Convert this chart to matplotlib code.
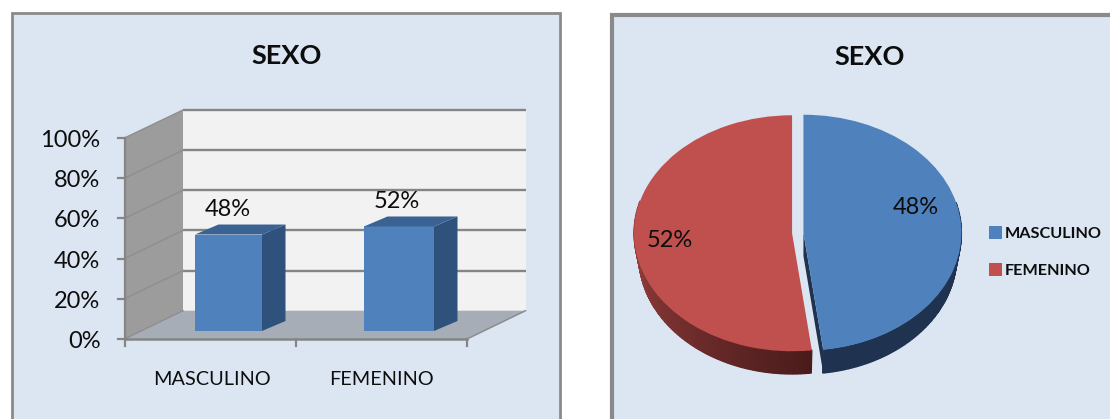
import numpy as np
import matplotlib
matplotlib.use('Agg')
import matplotlib.pyplot as plt
from matplotlib.patches import Rectangle, Polygon

# ================================================================
# Data
# ================================================================
title = 'SEXO'
categorias = ['MASCULINO', 'FEMENINO']
valores = [48, 52]
ticks = [0, 20, 40, 60, 80, 100]

W, H = 1110, 419
azul, rojo = '#4F81BD', '#C0504D'
borde = '#8A8A8A'
panel = '#DCE6F2'
negro = '#0D0D0D'

plt.rcParams['font.family'] = ['Lato', 'DejaVu Sans']

fig = plt.figure(figsize=(W / 100, H / 100), dpi=100, facecolor='white')

# base axes in pixels of the picture
ax = fig.add_axes([0, 0, 1, 1])
ax.set_xlim(0, W)
ax.set_ylim(H, 0)
ax.axis('off')

# panels
ax.add_patch(Rectangle((11.5, 13.5), 548, 420, fc=panel, ec=borde, lw=2))
ax.add_patch(Rectangle((612, 15.5), 520, 420, fc=panel, ec=borde, lw=3))

# ================================================================
# Bar chart (fake 3D)
# ================================================================
x0, x1 = 124.5, 467          # front edge of the floor
dx = 58.5                    # depth of the box
y_front, y_back = 339, 310.7
px_frente = 2.01             # pixels per 1%
px_fondo = 2.007


def yf(v):
    return y_front - px_frente * v


def yb(v):
    return y_back - px_fondo * v


# back wall, side wall, floor
ax.add_patch(Polygon([(x0 + dx, yb(100)), (x0 + dx + 342.5, yb(100)),
                      (x0 + dx + 342.5, yb(0)), (x0 + dx, yb(0))],
                     fc='#F2F2F2', ec='none', zorder=2))
ax.add_patch(Polygon([(x0, yf(100)), (x0 + dx, yb(100)), (x0 + dx, yb(0)), (x0, yf(0))],
                     fc='#9C9C9C', ec='none', zorder=2))
ax.add_patch(Polygon([(x0, yf(0)), (x0 + dx, yb(0)), (x1 + dx, yb(0)), (x1, yf(0))],
                     fc='#A7ADB7', ec='none', zorder=2))

# grid lines and ticks
for v in ticks:
    if v > 0:
        ax.plot([x0 + dx, x1 + dx], [yb(v), yb(v)], color='#858585', lw=1.7, zorder=3,
                solid_capstyle='butt')
    ax.plot([x0, x0 + dx], [yf(v), yb(v)], color='#8E8E8E', lw=1.0, zorder=3)
    ax.plot([x0 - 7, x0], [yf(v), yf(v)], color='#858585', lw=1.6, zorder=3)
    ax.text(100.5, yf(v) + 2.5, f'{v}%', ha='right', va='center', fontsize=17,
            color=negro, zorder=6)
ax.plot([x0, x0], [yf(100), yf(0)], color='#858585', lw=1.6, zorder=3)
ax.plot([x0, x1], [yf(0), yf(0)], color='#858585', lw=1.8, zorder=3)
ax.plot([x1, x1 + dx], [yf(0), yb(0)], color='#8C8C8C', lw=1.1, zorder=3)
for xt in [x0, (x0 + x1) / 2, x1]:
    ax.plot([xt, xt], [yf(0), yf(0) + 7], color='#858585', lw=1.6, zorder=3)

# bars
bar_left = [195, 364]
bar_ancho = [67, 70]
bar_prof_x = 23.5
bar_prof_y = 10
base = 331
for i, v in enumerate(valores):
    xa = bar_left[i]
    xb = xa + bar_ancho[i]
    top = base - px_frente * v
    ax.bar(xa, -px_frente * v, width=bar_ancho[i], bottom=base, align='edge',
           color=azul, zorder=4)
    ax.add_patch(Polygon([(xb, base), (xb + bar_prof_x, base - bar_prof_y),
                          (xb + bar_prof_x, top - bar_prof_y), (xb, top)],
                         fc='#2F527C', ec='none', zorder=4))
    ax.add_patch(Polygon([(xa, top), (xa + bar_prof_x, top - bar_prof_y),
                          (xb + bar_prof_x, top - bar_prof_y), (xb, top)],
                         fc='#3A6292', ec='none', zorder=4))
    ax.text(xa + 33, top - 25, f'{v}%', ha='center', va='center',
            fontsize=17, color=negro, zorder=6)

ax.text(211.5, 379, categorias[0], ha='center', va='center', fontsize=14.3, color=negro)
ax.text(381.5, 379, categorias[1], ha='center', va='center', fontsize=14.3, color=negro)

# titles
ax.text(287, 56, title, ha='center', va='center', fontsize=19.5, fontweight='bold', color=negro)
ax.text(869.5, 57, title, ha='center', va='center', fontsize=19.5, fontweight='bold', color=negro)

# ================================================================
# Pie chart (squashed axes, side drawn below the slices)
# ================================================================
cx, cy = 797.75, 233
rx, ry = 158, 118
left, right = 620, 980
top, bottom = 100, 390
ax2 = fig.add_axes([left / W, 1 - bottom / H, (right - left) / W, (bottom - top) / H])
ax2.patch.set_alpha(0)

sep = 0.036
wedges, _ = ax2.pie(valores, colors=[azul, rojo], startangle=90, counterclock=False,
                    explode=[sep, sep], radius=1,
                    wedgeprops={'linewidth': 0, 'zorder': 5})
ax2.set_aspect('auto')
ax2.set_xlim((left - cx) / rx, (right - cx) / rx)
ax2.set_ylim((cy - bottom) / ry, (cy - top) / ry)
ax2.axis('off')

prof = 23 / ry
corte = 360 * valores[0] / sum(valores)
k_lado = 0.97                # the lower rim is a bit narrower than the top


def lado(a1, a2, off, color):
    # a1, a2: clockwise from the top, degrees
    r1, r2 = np.radians(a1), np.radians(a2)
    ax2.add_patch(Polygon([(off + np.sin(r1), np.cos(r1)), (off + np.sin(r2), np.cos(r2)),
                           (off + k_lado * np.sin(r2), np.cos(r2) - prof),
                           (off + k_lado * np.sin(r1), np.cos(r1) - prof)],
                          fc=color, ec=color, lw=0.9, zorder=2))


# side of the blue slice
for a in np.arange(75, corte, 1.0):
    lado(a, min(a + 1, corte), sep, '#1F3350')
r = np.radians(corte)
tx, ty = sep + np.sin(r), np.cos(r)
ax2.add_patch(Polygon([(sep, 0), (tx, ty), (tx, ty - prof), (sep, -prof)],
                      fc='#1F3350', ec='none', zorder=2))

# side of the red slice, going lighter to the left
c_osc = np.array([0x4A, 0x1B, 0x1B]) / 255
c_cla = np.array([0xA0, 0x44, 0x42]) / 255
angs = np.arange(corte, 285, 1.0)
for a in angs:
    f = (a - corte) / (angs[-1] - corte)
    lado(a, a + 1, -sep, tuple(c_osc + (c_cla - c_osc) * f))

# pie labels, over the slices
fig.text(915.7 / W, 1 - 207 / H, f'{valores[0]}%', ha='center', va='center', fontsize=17,
         color=negro, zorder=10)
fig.text(669.5 / W, 1 - 240 / H, f'{valores[1]}%', ha='center', va='center', fontsize=17,
         color=negro, zorder=10)

# legend
ley = ax2.legend(wedges, categorias, loc='upper left', frameon=False,
                 bbox_to_anchor=(989 / W, 1 - 226.5 / H), bbox_transform=fig.transFigure,
                 prop={'size': 11.7, 'weight': 'bold'}, labelspacing=1.35,
                 handlelength=0.8, handleheight=0.8, handletextpad=0.2,
                 borderpad=0, borderaxespad=0)
for t in ley.get_texts():
    t.set_color(negro)

fig.savefig('out.png', dpi=100)
